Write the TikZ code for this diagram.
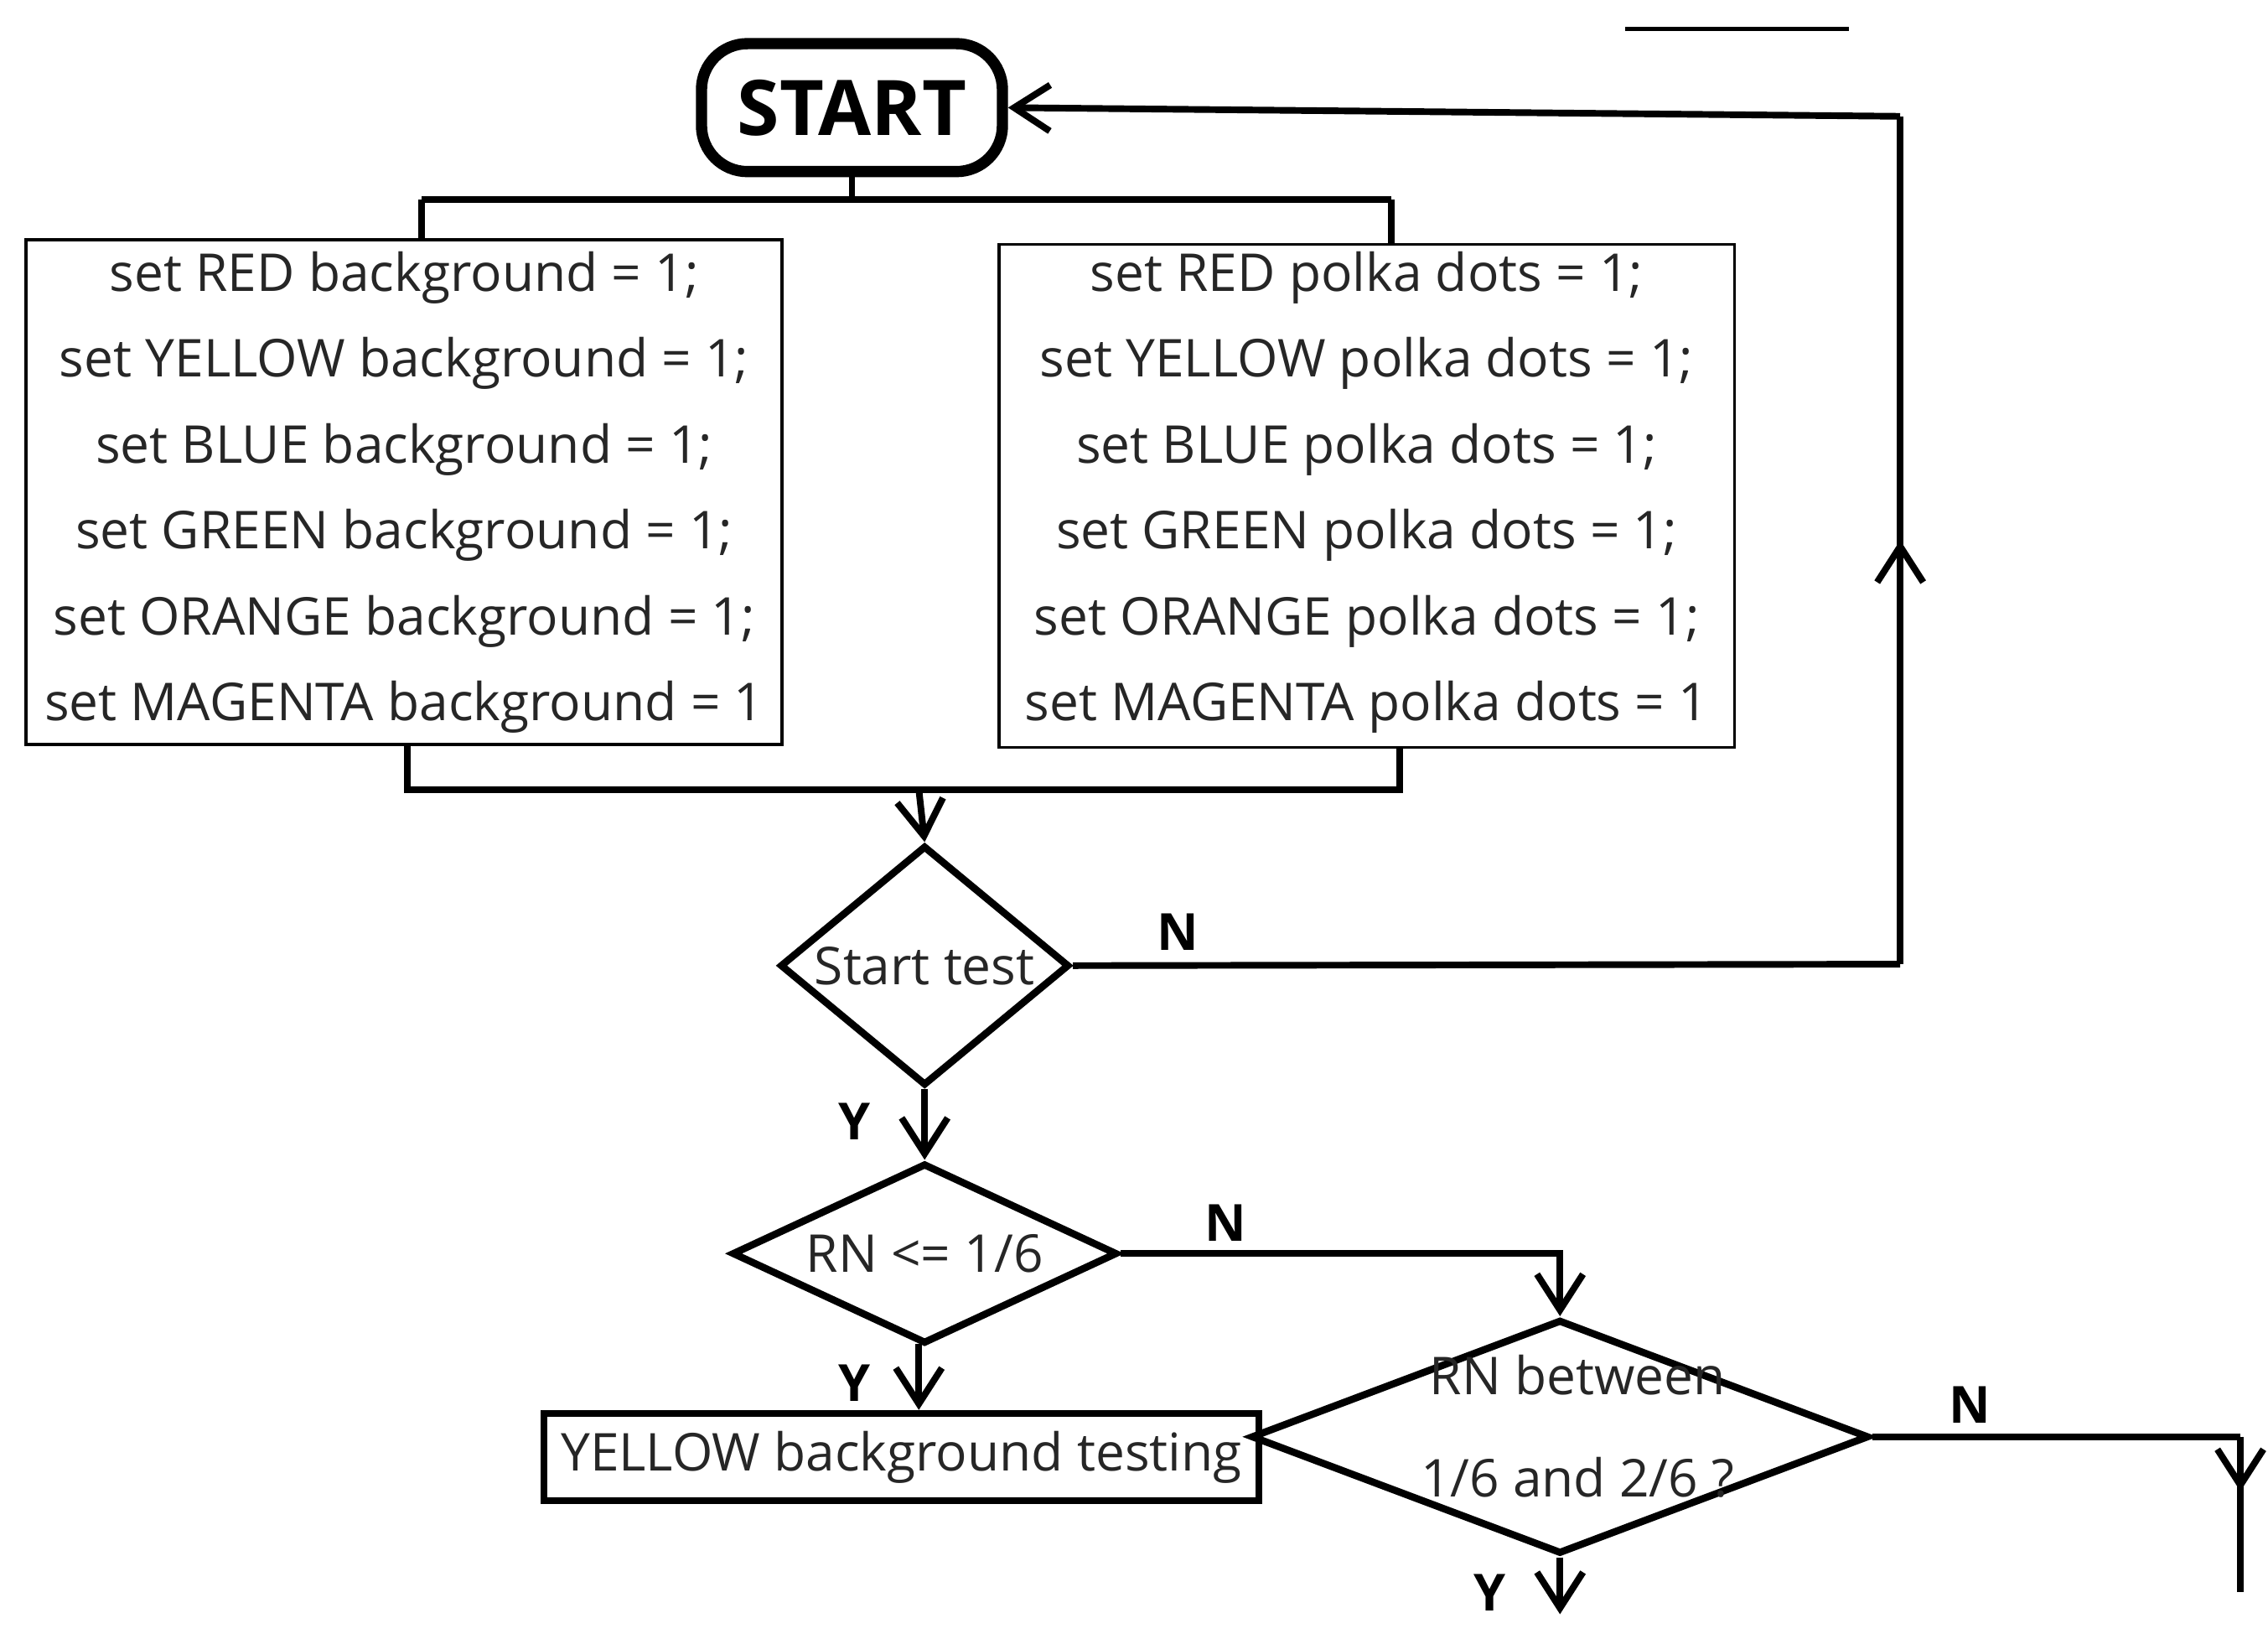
\documentclass[tikz,border=0pt]{standalone}
\usepackage{fontspec}
\setmainfont{Open Sans}
\usetikzlibrary{arrows.meta,shapes.geometric,decorations.markings}
\begin{document}
\begin{tikzpicture}[x=0.01cm,y=-0.01cm,
  conn/.style={line width=1.3pt},
  arr/.style={conn,-{Straight Barb[length=7pt,width=9pt]}},
  midarr/.style={conn,postaction={decorate},decoration={markings,mark=at position #1 with {\arrow{Straight Barb[length=7pt,width=9pt]}}}},
  txt/.style={font=\fontsize{10.2pt}{16.8pt}\selectfont,text=black!85},
  lbl/.style={font=\bfseries\fontsize{10pt}{12pt}\selectfont}]
\useasboundingbox (0,0) rectangle (1560,1127);
\draw[line width=0.8pt] (1118,20) -- (1272,20);
\node[draw,line width=2.2pt,rounded corners=9pt,minimum width=207*0.01cm,minimum height=88*0.01cm,font=\bfseries\fontsize{15pt}{18pt}\selectfont] (start) at (586,74) {START};
% left box
\node[draw,line width=0.6pt,minimum width=520*0.01cm,minimum height=347*0.01cm] (lbox) at (278,338.5) {};
\node[txt,align=center] (ltext) at (278,338.5) {set RED background = 1;\\ set YELLOW background = 1;\\ set BLUE background = 1;\\ set GREEN background = 1;\\ set ORANGE background = 1;\\ set MAGENTA background = 1};
\node[draw,line width=0.6pt,minimum width=506*0.01cm,minimum height=346*0.01cm] (rbox) at (940,341) {};
\node[txt,align=center] (rtext) at (940,338.5) {set RED polka dots = 1;\\ set YELLOW polka dots = 1;\\ set BLUE polka dots = 1;\\ set GREEN polka dots = 1;\\ set ORANGE polka dots = 1;\\ set MAGENTA polka dots = 1};
% diamonds
\node[draw,line width=1.4pt,diamond,aspect=1.2,minimum width=199*0.01cm,minimum height=165*0.01cm,inner sep=0pt,txt] (d1) at (636,664) {Start test};
\node[draw,line width=1.4pt,diamond,aspect=2.1,minimum width=265*0.01cm,minimum height=124*0.01cm,inner sep=0pt,txt] (d2) at (636,862) {RN <= 1/6};
\node[draw,line width=1.4pt,diamond,aspect=2.6,minimum width=425*0.01cm,minimum height=161*0.01cm,inner sep=0pt] (d3) at (1073,988) {};
\node[txt,align=center,font=\fontsize{10.2pt}{20pt}\selectfont] (d3t) at (1085,981) {RN between\\1/6 and 2/6 ?};
\node[draw,line width=1.4pt,minimum width=440*0.01cm,minimum height=60*0.01cm,txt] (ybox) at (620,1002) {YELLOW background testing};
% coordinates
\coordinate (c1) at (586,137);
\coordinate (cl) at (290,137);
\coordinate (cr) at (957,137);
\coordinate (m1) at (280,543);
\coordinate (m2) at (963,543);
\coordinate (mm) at (632,543);
\coordinate (rt) at (1307,663);
\coordinate (rtop) at (1307,80);
\coordinate (n2) at (1073,862);
\coordinate (n3) at (1541,988);
\coordinate (n3e) at (1541,1095);
\coordinate (y3) at (1073,1110);
% connectors
\draw[conn] (start.south) -- (c1);
\draw[conn] (cl) -- (cr);
\draw[conn] (cl) -- (290,165);
\draw[conn] (cr) -- (957,168);
\draw[conn] (280,512) -- (m1) -- (m2) -- (963,514);
\draw[arr] (mm) -- (d1.north);
\draw[conn] (d1.east) -- (rt);
\draw[midarr=0.5] (rt) -- (rtop);
\draw[arr] (rtop) -- (start.east);
\draw[arr] (d1.south) -- (d2.north);
\draw[arr] (d2.east) -- (n2) -- (d3.north);
\draw[arr] (632,924) -- (ybox.north -| 632,0);
\draw[conn] (d3.east) -- (n3);
\draw[midarr=0.35] (n3) -- (n3e);
\draw[arr] (d3.south) -- (y3);
% labels
\node[lbl] (ln1) at (810,641) {N};
\node[lbl] (ly1) at (588,771) {Y};
\node[lbl] (ln2) at (843,841) {N};
\node[lbl] (ly2) at (588,951) {Y};
\node[lbl] (ln3) at (1355,966) {N};
\node[lbl] (ly3) at (1025,1095) {Y};
\end{tikzpicture}
\end{document}
